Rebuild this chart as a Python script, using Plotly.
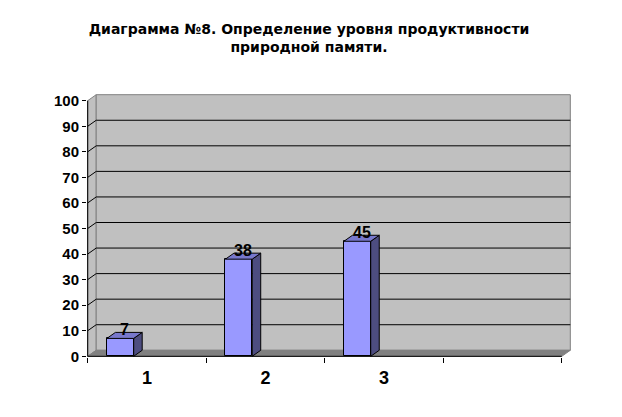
import plotly.graph_objects as go

# ---- data ----
categories = ["1", "2", "3", ""]
values = [7, 38, 45]
y_ticks = [0, 10, 20, 30, 40, 50, 60, 70, 80, 90, 100]
title_text = "Диаграмма №8. Определение уровня продуктивности<br>природной памяти."

# ---- geometry (pixel style constants, page coords) ----
BODY = 8                         # default page body margin
W, H = 622 - BODY, 417 - BODY
PX_X0, PX_X1 = 88.0 - BODY, 561.7 - BODY      # pixel of x=0.5 and x=4.5 (front)
PX_Y0, PX_Y100 = 356.0 - BODY, 100.7 - BODY   # pixel of y=0 and y=100 (front)
DX_PX, DY_PX = 8.5, 6.0         # 3D depth offset
PAD = 0.7

ncat = len(categories)
ux = (PX_X1 - PX_X0) / ncat
uy = (PX_Y0 - PX_Y100) / 100.0
dx = DX_PX / ux
dy = DY_PX / uy
padx, pady = PAD / ux, PAD / uy

x_lo, x_hi = 0.5, ncat + 0.5
xrange = [x_lo - padx, x_hi + dx + padx]
yrange = [-pady, 100 + dy + pady]

BAR_W = 0.226
BAR_OFF = -0.338

FRONT = "#9999FF"
TOP = "#7878CC"
SIDE = "#4D4D80"
WALL = "#C0C0C0"
FLOOR = "#808080"

fig = go.Figure()

shapes = []
shapes.append(dict(type="path", xref="x", yref="y", layer="below",
                   path=f"M{x_lo},0 L{x_lo+dx},{dy} L{x_lo+dx},{100+dy} L{x_lo},100 Z",
                   fillcolor=WALL, line=dict(color="#808080", width=1)))
shapes.append(dict(type="rect", xref="x", yref="y", layer="below",
                   x0=x_lo+dx, x1=x_hi+dx, y0=dy, y1=100+dy,
                   fillcolor=WALL, line=dict(color="#808080", width=1)))
shapes.append(dict(type="path", xref="x", yref="y", layer="below",
                   path=f"M{x_lo},0 L{x_hi},0 L{x_hi+dx},{dy} L{x_lo+dx},{dy} Z",
                   fillcolor=FLOOR, line=dict(color=FLOOR, width=1)))
for v in y_ticks[1:-1]:
    shapes.append(dict(type="path", xref="x", yref="y", layer="below",
                       path=f"M{x_lo},{v} L{x_lo+dx},{v+dy} L{x_hi+dx},{v+dy}",
                       line=dict(color="black", width=1)))
shapes.append(dict(type="line", xref="x", yref="y", x0=x_lo, x1=x_lo, y0=0, y1=100,
                   line=dict(color="black", width=1)))
shapes.append(dict(type="line", xref="x", yref="y", x0=x_lo, x1=x_hi, y0=0, y1=0,
                   line=dict(color="black", width=1)))

xs = list(range(1, len(values) + 1))

fig.add_trace(go.Bar(x=xs, y=values, width=BAR_W, offset=BAR_OFF,
                     marker=dict(color=FRONT, line=dict(color="black", width=1)),
                     hoverinfo="skip", showlegend=False))

side_x, side_y, top_x, top_y = [], [], [], []
for x, v in zip(xs, values):
    xl = x + BAR_OFF
    xr = xl + BAR_W
    side_x += [xr, xr + dx, xr + dx, xr, xr, None]
    side_y += [0, dy, v + dy, v, 0, None]
    top_x += [xl, xl + dx, xr + dx, xr, xl, None]
    top_y += [v, v + dy, v + dy, v, v, None]
fig.add_trace(go.Scatter(x=side_x, y=side_y, mode="lines", fill="toself",
                         fillcolor=SIDE, line=dict(color="black", width=1),
                         hoverinfo="skip", showlegend=False))
fig.add_trace(go.Scatter(x=top_x, y=top_y, mode="lines", fill="toself",
                         fillcolor=TOP, line=dict(color="black", width=1),
                         hoverinfo="skip", showlegend=False))

annotations = []
for x, v in zip(xs, values):
    annotations.append(dict(x=x + BAR_OFF + BAR_W / 2 + dx / 2, y=v, xref="x", yref="y",
                            text=str(v), showarrow=False, yshift=9,
                            xanchor="center", yanchor="middle",
                            font=dict(family="Liberation Sans", size=16, color="black", weight="bold")))

fig.update_layout(
    width=W, height=H,
    paper_bgcolor="white", plot_bgcolor="rgba(0,0,0,0)",
    margin=dict(l=PX_X0 - PAD, r=W - (PX_X1 + DX_PX + PAD),
                t=PX_Y100 - DY_PX - PAD, b=H - (PX_Y0 + PAD), pad=0, autoexpand=False),
    title=dict(text=title_text, x=(309 - BODY) / W, xanchor="center", y=1 - 26 / H, yanchor="top",
               font=dict(family="DejaVu Sans", size=14, color="black", weight="bold")),
    shapes=shapes, annotations=annotations,
    bargap=0,
    xaxis=dict(range=xrange, tickvals=[1, 2, 3, 4], ticktext=categories,
               showgrid=False, zeroline=False, showline=False, ticks="",
               ticklabelstandoff=8,
               tickfont=dict(family="Liberation Sans", size=18, color="black", weight="bold"),
               minor=dict(tickvals=[i + 0.5 for i in range(ncat + 1)], ticks="outside",
                          ticklen=5, tickcolor="black", tickwidth=1, showgrid=False)),
    yaxis=dict(range=yrange, tickvals=y_ticks, showgrid=False, zeroline=False,
               showline=False, ticks="outside", ticklen=4, tickcolor="black",
               tickfont=dict(family="Liberation Sans", size=15, color="black", weight="bold")),
)

fig.write_html("out.html")
